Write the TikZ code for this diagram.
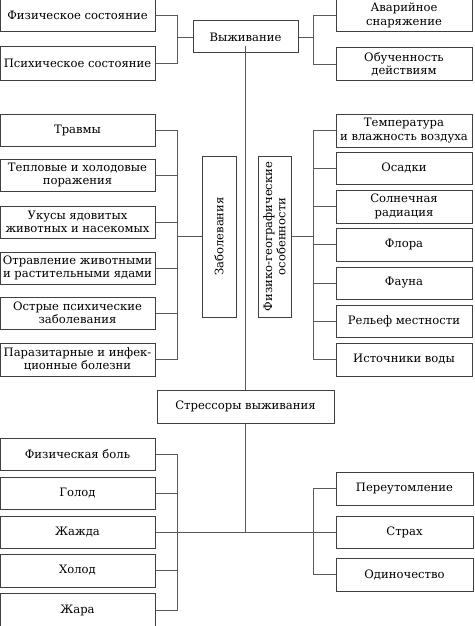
\documentclass[tikz,border=0pt]{standalone}
\usepackage{fontspec}
\setmainfont{DejaVu Serif}
\begin{document}
\begin{tikzpicture}[x=1pt,y=-1pt,
  box/.style={draw=black!75, line width=1pt, inner sep=0pt, align=center,
    font=\fontsize{11.6}{13.3}\selectfont, text=black},
  lbox/.style={box, minimum width=155pt, minimum height=32pt},
  rbox/.style={box, minimum width=136pt, minimum height=32pt},
  vbox/.style={box, rotate=90, minimum width=161pt, minimum height=33pt},
  conn/.style={draw=black!65, line width=0.8pt}]
\useasboundingbox (0,0) rectangle (474,626);
% coordinates of bracket lines
\coordinate (LX) at (177,0);
\coordinate (RX) at (313,0);
\coordinate (CX) at (245.5,0);
% top
\node[lbox, minimum height=33pt] (fs) at (77.5,15.5) {Физическое состояние};
\node[lbox, minimum height=33pt] (ps) at (77.5,63.5) {Психическое состояние};
\node[box, minimum width=105pt, minimum height=32pt] (vy) at (245.5,37) {Выживание};
\node[rbox, minimum height=33pt] (as) at (404,15.5) {Аварийное\\снаряжение};
\node[rbox] (od) at (404,64) {Обученность\\действиям};
\coordinate (vytop) at (245.5,46);
% middle left
\node[lbox] (tr) at (77.5,130) {Травмы};
\node[lbox] (tp) at (77.5,175) {Тепловые и холодовые\\поражения};
\node[lbox] (uk) at (77.5,222) {Укусы ядовитых\\животных и насекомых};
\node[lbox] (ot) at (77.5,268) {Отравление животными\\и растительными ядами};
\node[lbox] (os) at (77.5,313) {Острые психические\\заболевания};
\node[lbox, minimum height=33pt] (pa) at (77.5,359.5) {Паразитарные и инфек-\\ционные болезни};
\node[vbox, minimum height=34pt] (zb) at (219,236.5) {Заболевания};
\node[vbox] (fg) at (274.5,236.5) {Физико-географические\\особенности};
% middle right
\node[rbox, minimum height=33pt] (te) at (404,130.5) {Температура\\и влажность воздуха};
\node[rbox] (oc) at (404,168) {Осадки};
\node[rbox, minimum height=33pt] (so) at (404,206.5) {Солнечная\\радиация};
\node[rbox, minimum height=33pt] (fl) at (404,244.5) {Флора};
\node[rbox] (fa) at (404,283) {Фауна};
\node[rbox] (re) at (404,321) {Рельеф местности};
\node[rbox, minimum height=33pt] (is) at (404,359.5) {Источники воды};
% stressors
\node[box, minimum width=177pt, minimum height=33pt] (st) at (245.5,406.5) {Стрессоры выживания};
% bottom left
\node[lbox] (fb) at (77.5,454) {Физическая боль};
\node[lbox] (go) at (77.5,493) {Голод};
\node[lbox] (zh) at (77.5,532) {Жажда};
\node[lbox, minimum height=33pt] (ho) at (77.5,570.5) {Холод};
\node[lbox, minimum height=34pt] (ja) at (77.5,610) {Жара};
% bottom right
\node[rbox, minimum width=137pt, minimum height=33pt] (pe) at (404.5,488.5) {Переутомление};
\node[rbox, minimum width=137pt] (sr) at (404.5,532) {Страх};
\node[rbox, minimum width=137pt, minimum height=33pt] (on) at (404.5,574.5) {Одиночество};
% connectors top
\draw[conn] (fs.east) -- (fs.east -| LX) -- (ps.east -| LX) -- (ps.east);
\draw[conn] (vy.west) -- (vy.west -| LX);
\draw[conn] (as.west) -- (as.west -| RX) -- (od.west -| RX) -- (od.west);
\draw[conn] (vy.east) -- (vy.east -| RX);
\draw[conn] (vytop) -- (st.north);
% connectors middle
\draw[conn] (tr.east) -- (tr.east -| LX) -- (pa.east -| LX) -- (pa.east);
\foreach \n in {tp,uk,ot,os} \draw[conn] (\n.east) -- (\n.east -| LX);
\draw[conn] (zb.north) -- (zb.north -| LX);
\draw[conn] (te.west) -- (te.west -| RX) -- (is.west -| RX) -- (is.west);
\foreach \n in {oc,so,fl,fa,re} \draw[conn] (\n.west) -- (\n.west -| RX);
\draw[conn] (fg.south) -- (fg.south -| RX);
% connectors bottom
\draw[conn] (st.south) -- (st.south |- zh.east);
\draw[conn] (zh.east) -- (sr.west);
\draw[conn] (fb.east) -- (fb.east -| LX) -- (ja.east -| LX) -- (ja.east);
\foreach \n in {go,ho} \draw[conn] (\n.east) -- (\n.east -| LX);
\draw[conn] (pe.west) -- (pe.west -| RX) -- (on.west -| RX) -- (on.west);
\end{tikzpicture}
\end{document}
